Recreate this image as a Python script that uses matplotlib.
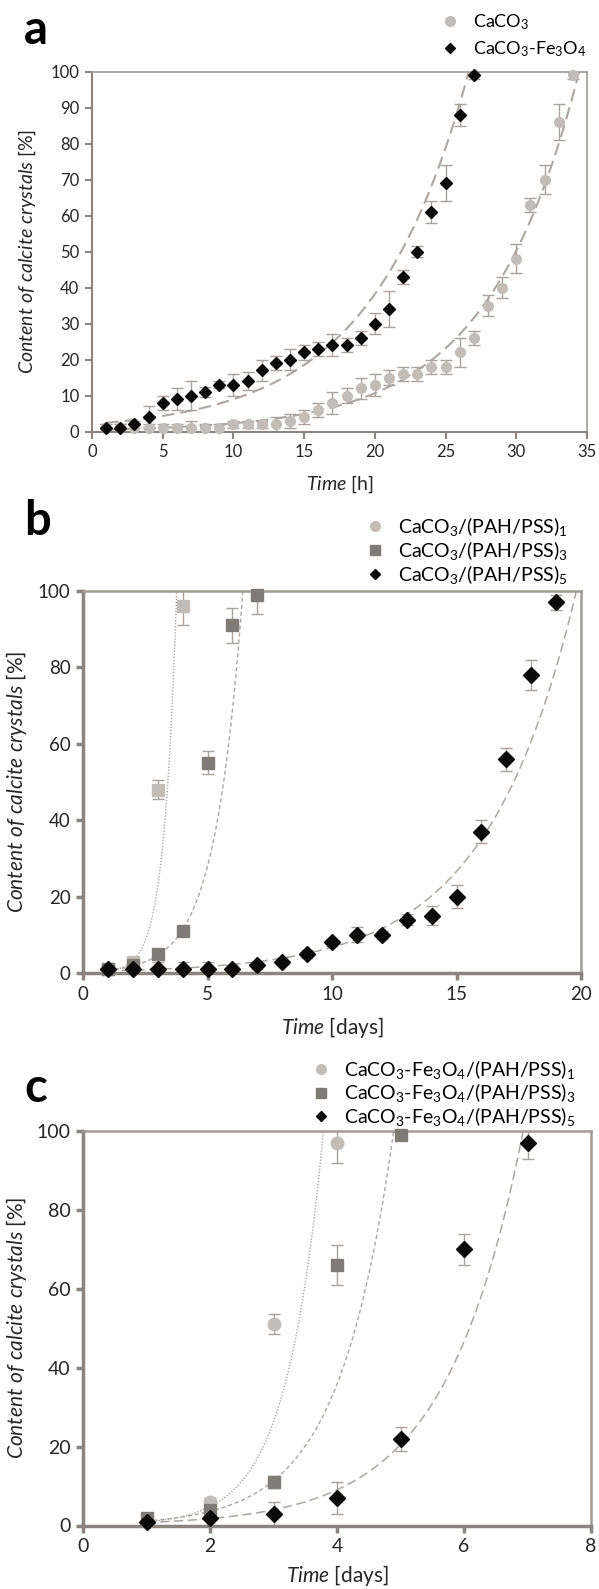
import numpy as np
import matplotlib.pyplot as plt
from matplotlib.lines import Line2D

plt.rcParams['font.family'] = ['Lato', 'DejaVu Sans']
plt.rcParams['mathtext.fontset'] = 'custom'
plt.rcParams['mathtext.rm'] = 'Lato'
plt.rcParams['mathtext.it'] = 'Lato:italic'
plt.rcParams['mathtext.bf'] = 'Lato:bold'

# ---- panel a : time in hours ----
t_a_caco3 = [1, 2, 3, 4, 5, 6, 7, 8, 9, 10, 11, 12, 13, 14, 15, 16, 17,
             18, 19, 20, 21, 22, 23, 24, 25, 26, 27, 28, 29, 30, 31, 32, 33, 34]
y_a_caco3 = [1, 1, 1, 1, 1, 1, 1, 1, 1, 2, 2, 2, 2, 3, 4, 6, 8,
             10, 12, 13, 15, 16, 16, 18, 18, 22, 26, 35, 40, 48, 63, 70, 86, 99]
e_a_caco3 = [1, 1, 1, 1, 1, 1, 2, 1, 1, 1, 1, 1, 2, 2, 2, 2, 3,
             2, 3, 3, 2, 2, 2, 2, 2, 4, 2, 3, 3, 4, 2, 4, 5, 1]

t_a_fe = [1, 2, 3, 4, 5, 6, 7, 8, 9, 10, 11, 12, 13, 14, 15, 16, 17,
          18, 19, 20, 21, 22, 23, 24, 25, 26, 27]
y_a_fe = [1, 1, 2, 4, 8, 9, 10, 11, 13, 13, 14, 17, 19, 20, 22, 23, 24,
          24, 26, 30, 34, 43, 50, 61, 69, 88, 99]
e_a_fe = [1, 1, 1, 3, 2, 3, 4, 1.5, 1, 3, 2.5, 3, 2, 3, 2, 2, 3,
          2, 2, 3, 5, 2, 1.5, 3, 5, 3, 1]

# exponential trend lines y = A*exp(B*t)
fit_a_caco3 = (0.48, 0.155)
fit_a_fe = (2.1, 0.145)

# ---- panel b : time in days ----
t_b1 = [1, 2, 3, 4]
y_b1 = [1, 3, 48, 96]
e_b1 = [0.5, 1, 2.5, 5]
t_b3 = [1, 2, 3, 4, 5, 6, 7]
y_b3 = [1, 2, 5, 11, 55, 91, 99]
e_b3 = [0.5, 1, 1, 1, 3, 4.5, 5]
t_b5 = [1, 2, 3, 4, 5, 6, 7, 8, 9, 10, 11, 12, 13, 14, 15, 16, 17, 18, 19]
y_b5 = [1, 1, 1, 1, 1, 1, 2, 3, 5, 8, 10, 10, 14, 15, 20, 37, 56, 78, 97]
e_b5 = [0.5, 1, 2, 2, 2, 1, 1, 1, 1, 1, 2, 1, 1.5, 2.5, 3, 3, 3, 4, 2]
fit_b1 = (0.065, 1.95)
fit_b3 = (0.31, 0.9)
fit_b5 = (0.43, 0.275)

# ---- panel c : time in days ----
t_c1 = [1, 2, 3, 4]
y_c1 = [1, 6, 51, 97]
e_c1 = [0.5, 1, 2.5, 5]
t_c3 = [1, 2, 3, 4, 5]
y_c3 = [2, 4, 11, 66, 99]
e_c3 = [0.5, 1, 1.5, 5, 1]
t_c5 = [1, 2, 3, 4, 5, 6, 7]
y_c5 = [1, 2, 3, 7, 22, 70, 97]
e_c5 = [0.5, 2, 3, 4, 3, 4, 4]
fit_c1 = (0.16, 1.7)
fit_c3 = (0.36, 1.15)
fit_c5 = (0.34, 0.82)

LIGHT = '#c2bdb8'
DARK = '#7f7b77'
BLACK = '#0a0a0a'
ERR = '#a8a39e'
FIT = '#aca7a2'
SPINE = '#8a8580'
TXT = '#262626'

W, H = 599, 1589
fig = plt.figure(figsize=(W / 100, H / 100), dpi=100)


def px_axes(left, top, right, bottom):
    return fig.add_axes([left / W, 1 - bottom / H, (right - left) / W, (bottom - top) / H])


def style_axes(ax, lw_main, lw_frame, fs):
    for s in ['left', 'bottom']:
        ax.spines[s].set_color(SPINE)
        ax.spines[s].set_linewidth(lw_main)
    for s in ['top', 'right']:
        ax.spines[s].set_color('#a09b97')
        ax.spines[s].set_linewidth(lw_frame)
    ax.tick_params(direction='out', length=5, width=lw_main, color=SPINE,
                   labelsize=fs, labelcolor=TXT, pad=4)


def series(ax, t, y, e, fit, tmax, marker, color, ms, ls, lw):
    tt = np.linspace(min(t), tmax, 300)
    ax.plot(tt, fit[0] * np.exp(fit[1] * tt), ls=ls, color=FIT, lw=lw, zorder=1)
    ax.errorbar(t, y, yerr=e, fmt='none', ecolor=ERR, elinewidth=1,
                capsize=4, capthick=1, zorder=2)
    ax.plot(t, y, ls='none', marker=marker, color=color, ms=ms,
            mec=color, zorder=3, clip_on=False)


# ================= panel a =================
ax = px_axes(92, 71.5, 587, 431.5)
series(ax, t_a_caco3, y_a_caco3, e_a_caco3, fit_a_caco3, 35, 'o', LIGHT, 7,
       (0, (6, 3)), 1.5)
series(ax, t_a_fe, y_a_fe, e_a_fe, fit_a_fe, 28, 'D', BLACK, 6.5,
       (0, (6, 3)), 1.5)
ax.set_xlim(0, 35)
ax.set_ylim(0, 100)
ax.set_xticks(range(0, 36, 5))
ax.set_yticks(range(0, 101, 10))
style_axes(ax, 1.5, 1.2, 12)
h = [Line2D([], [], ls='none', marker='o', color=LIGHT, ms=7),
     Line2D([], [], ls='none', marker='D', color=BLACK, ms=5.5)]
ax.legend(h, ['CaCO$_3$', 'CaCO$_3$-Fe$_3$O$_4$'], loc='upper left',
          bbox_to_anchor=(441 / W, 1 - 12 / H), bbox_transform=fig.transFigure,
          frameon=False, fontsize=13, handlelength=1.0, handletextpad=0.75,
          labelspacing=0.4, borderpad=0, borderaxespad=0)
fig.text(24 / W, 1 - 44 / H, 'a', fontsize=34, fontweight='bold', ha='left', va='baseline')
fig.text(27 / W, 1 - 251 / H, r'$\it{Content\ of\ calcite\ crystals}$ [%]',
         rotation=90, ha='center', va='center', fontsize=14, color=TXT)
fig.text(340 / W, 1 - 484 / H, r'$\it{Time}$ [h]', ha='center', va='center',
         fontsize=14, color=TXT)

# ================= panel b =================
ax = px_axes(83, 591, 581, 973)
series(ax, t_b1, y_b1, e_b1, fit_b1, 4.2, 's', LIGHT, 9, (0, (1, 1.2)), 1.0)
series(ax, t_b3, y_b3, e_b3, fit_b3, 7, 's', DARK, 9, (0, (3, 2)), 1.0)
series(ax, t_b5, y_b5, e_b5, fit_b5, 20, 'D', BLACK, 8.5, (0, (6, 3)), 1.1)
ax.set_xlim(0, 20)
ax.set_ylim(0, 100)
ax.set_xticks(range(0, 21, 5))
ax.set_yticks(range(0, 101, 20))
style_axes(ax, 2.5, 1.8, 13.5)
h = [Line2D([], [], ls='none', marker='o', color=LIGHT, ms=7),
     Line2D([], [], ls='none', marker='s', color=DARK, ms=6.5),
     Line2D([], [], ls='none', marker='D', color=BLACK, ms=5)]
ax.legend(h, ['CaCO$_3$/(PAH/PSS)$_1$', 'CaCO$_3$/(PAH/PSS)$_3$', 'CaCO$_3$/(PAH/PSS)$_5$'],
          loc='upper left', bbox_to_anchor=(365 / W, 1 - 515 / H),
          bbox_transform=fig.transFigure, frameon=False, fontsize=14,
          handlelength=1.0, handletextpad=0.7, labelspacing=0.05,
          borderpad=0, borderaxespad=0)
fig.text(24 / W, 1 - 535 / H, 'b', fontsize=34, fontweight='bold', ha='left', va='baseline')
fig.text(17 / W, 1 - 782 / H, r'$\it{Content\ of\ calcite\ crystals}$ [%]',
         rotation=90, ha='center', va='center', fontsize=15, color=TXT)
fig.text(332 / W, 1 - 1027 / H, r'$\it{Time}$ [days]', ha='center', va='center',
         fontsize=15, color=TXT)

# ================= panel c =================
ax = px_axes(83, 1131, 591, 1525.5)
series(ax, t_c1, y_c1, e_c1, fit_c1, 4, 'o', LIGHT, 9, (0, (1, 1.2)), 1.0)
series(ax, t_c3, y_c3, e_c3, fit_c3, 5, 's', DARK, 9, (0, (3, 2)), 1.0)
series(ax, t_c5, y_c5, e_c5, fit_c5, 7.1, 'D', BLACK, 8.5, (0, (6, 3)), 1.1)
ax.set_xlim(0, 8)
ax.set_ylim(0, 100)
ax.set_xticks(range(0, 9, 2))
ax.set_yticks(range(0, 101, 20))
style_axes(ax, 2.5, 1.8, 14)
h = [Line2D([], [], ls='none', marker='o', color=LIGHT, ms=7),
     Line2D([], [], ls='none', marker='s', color=DARK, ms=6.5),
     Line2D([], [], ls='none', marker='D', color=BLACK, ms=5)]
ax.legend(h, ['CaCO$_3$-Fe$_3$O$_4$/(PAH/PSS)$_1$', 'CaCO$_3$-Fe$_3$O$_4$/(PAH/PSS)$_3$',
              'CaCO$_3$-Fe$_3$O$_4$/(PAH/PSS)$_5$'],
          loc='upper left', bbox_to_anchor=(311 / W, 1 - 1058 / H),
          bbox_transform=fig.transFigure, frameon=False, fontsize=14,
          handlelength=1.0, handletextpad=0.7, labelspacing=0.02,
          borderpad=0, borderaxespad=0)
fig.text(24 / W, 1 - 1102 / H, 'c', fontsize=34, fontweight='bold', ha='left', va='baseline')
fig.text(17 / W, 1 - 1328 / H, r'$\it{Content\ of\ calcite\ crystals}$ [%]',
         rotation=90, ha='center', va='center', fontsize=15, color=TXT)
fig.text(337 / W, 1 - 1576 / H, r'$\it{Time}$ [days]', ha='center', va='center',
         fontsize=15, color=TXT)

fig.savefig('out.png', dpi=100)
